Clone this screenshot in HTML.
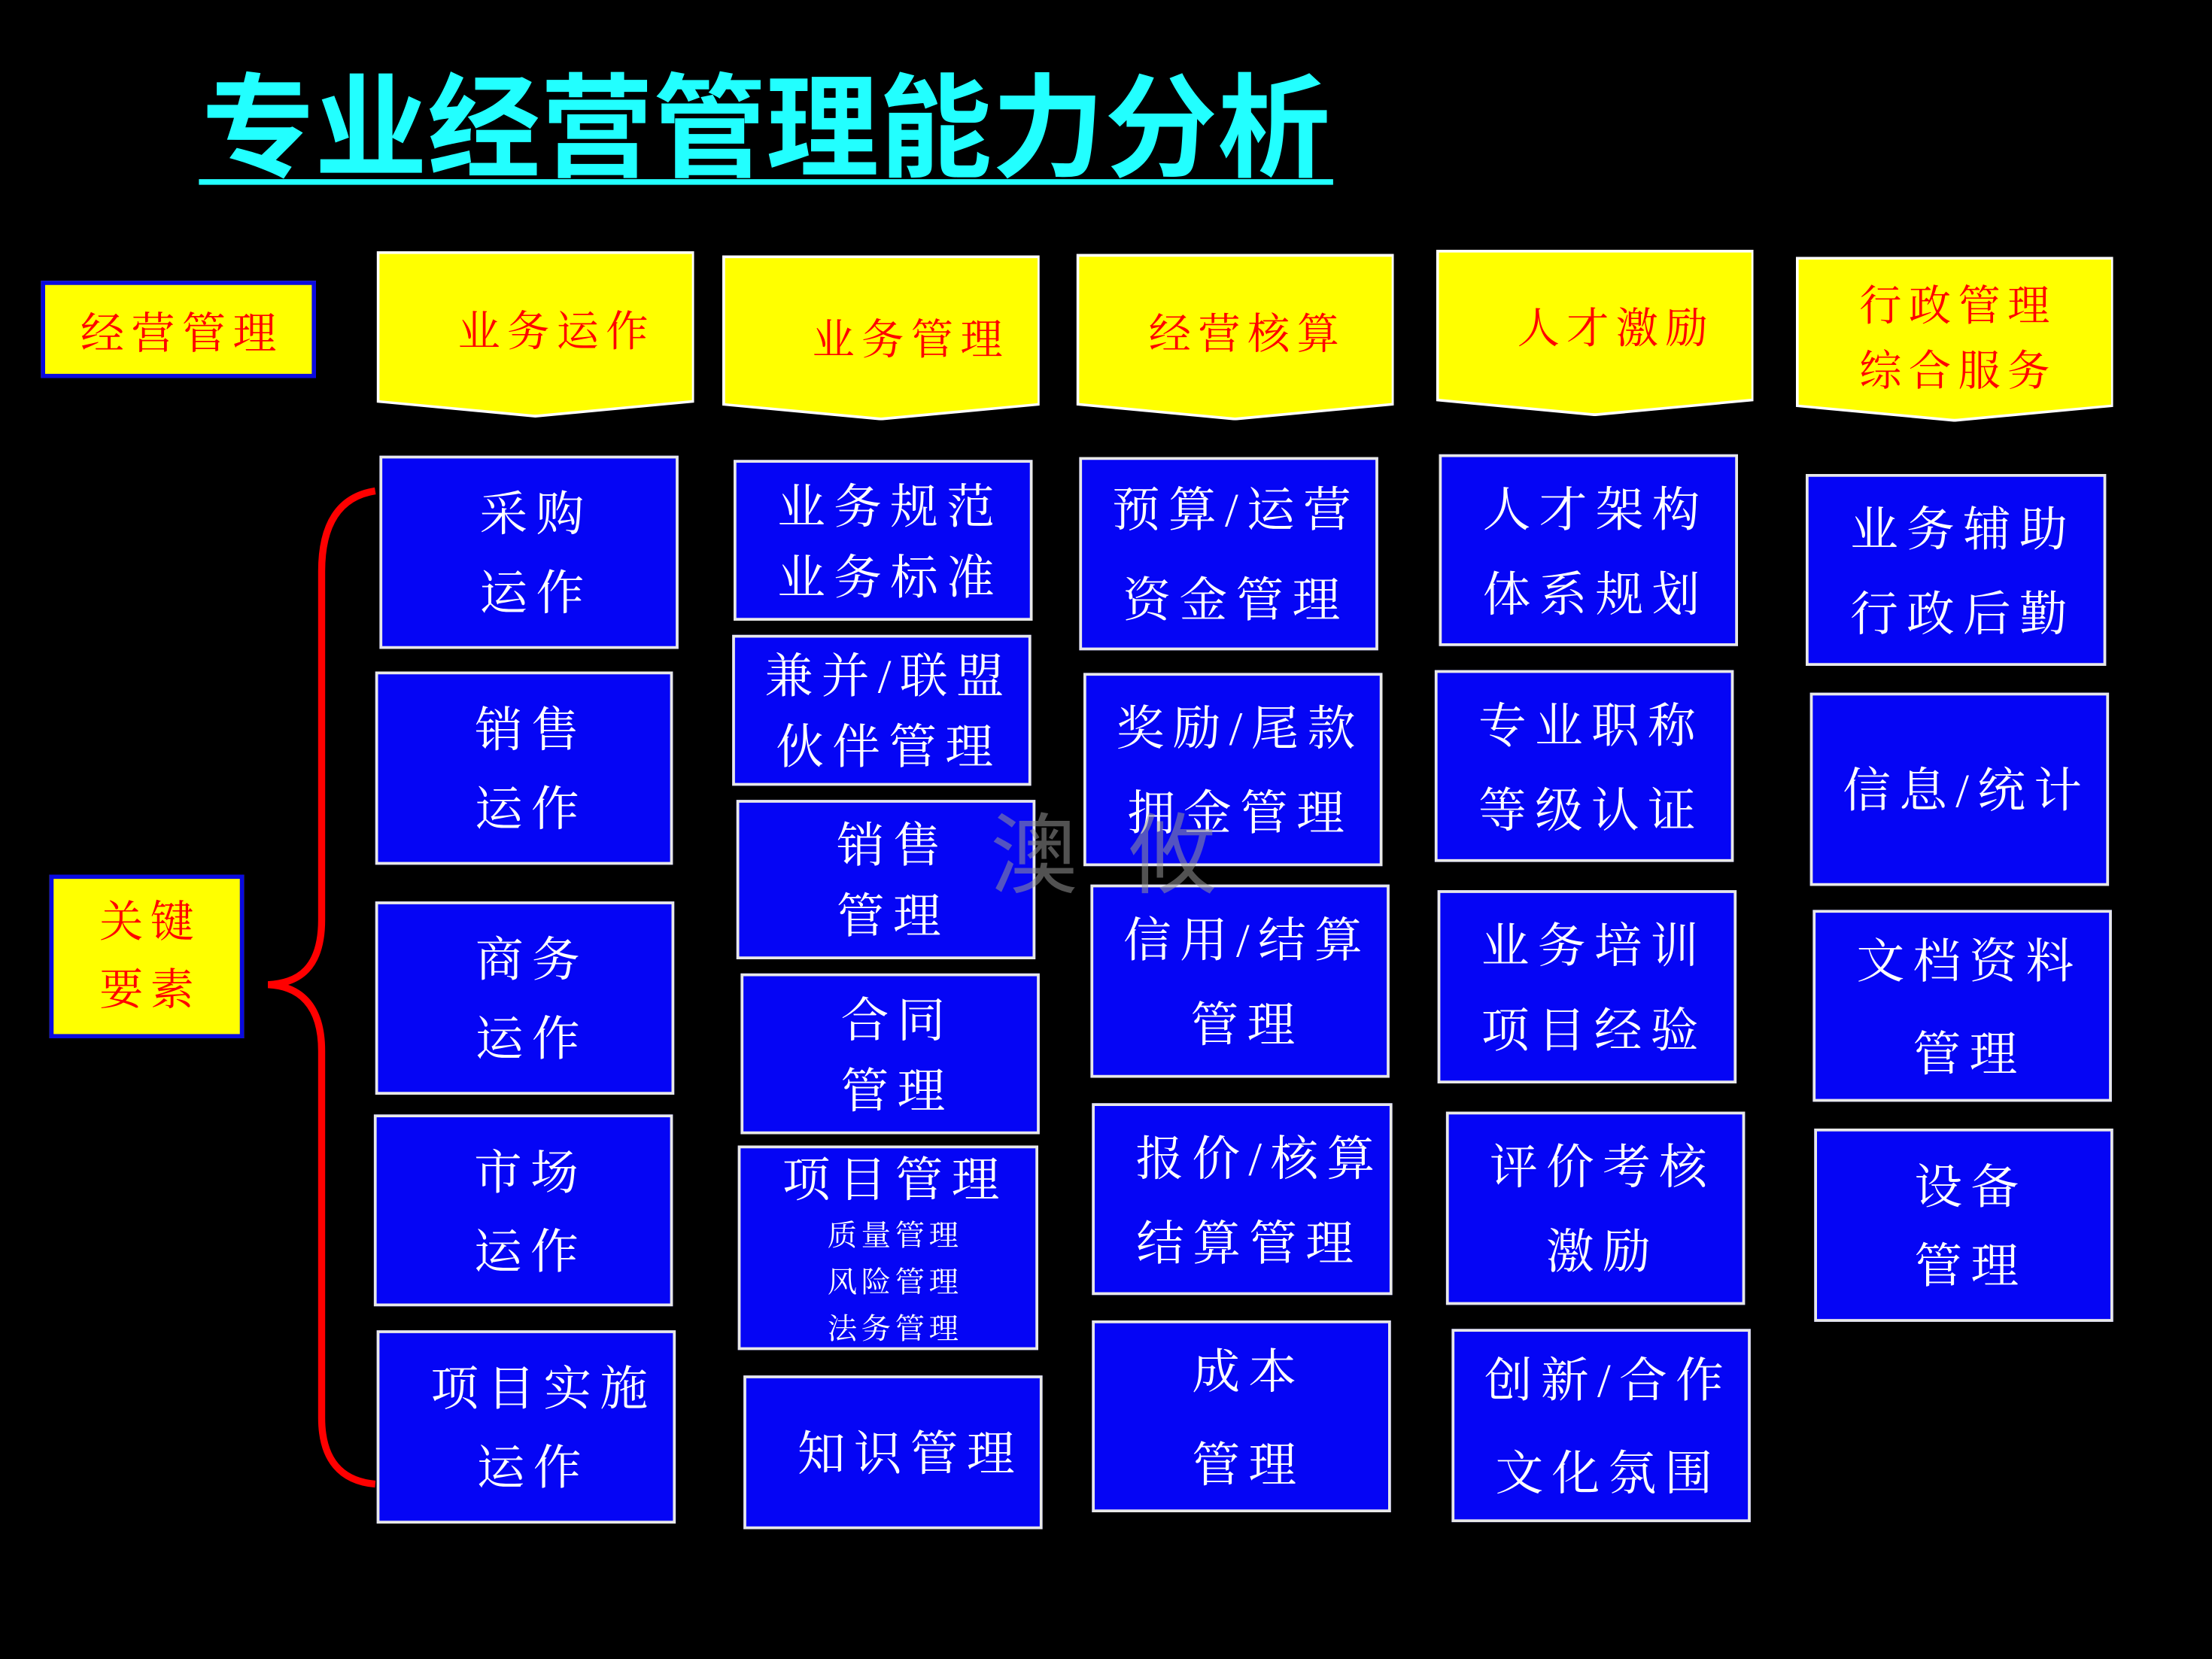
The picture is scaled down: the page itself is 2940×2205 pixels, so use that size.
<!DOCTYPE html>
<html><head><meta charset="utf-8">
<style>
html,body{margin:0;padding:0;background:#000;}
body{width:2940px;height:2205px;overflow:hidden;position:relative;}
#s{position:absolute;left:0;top:0;width:1568px;height:1176px;transform:scale(1.875);transform-origin:0 0;}
.t{position:absolute;left:143px;top:44px;font-family:"Liberation Sans","Noto Sans CJK SC",sans-serif;font-weight:bold;font-size:80px;color:#22ffff;letter-spacing:0px;white-space:nowrap;line-height:96px;}
.ul{position:absolute;left:141px;top:127px;width:804px;height:4px;background:#22ffff;}
.y{position:absolute;background:#ffff00;color:#ff0000;font-family:"Liberation Serif","Noto Serif CJK SC",serif;font-size:31px;letter-spacing:5px;padding-left:5px;display:flex;align-items:center;justify-content:center;text-align:center;box-sizing:border-box;}
.yb{border:3px solid #0a0ae0;}
.h{position:absolute;}
.h .in{position:absolute;inset:0;background:#fff;clip-path:polygon(0 0,100% 0,100% 91%,50% 100%,0 91%);}
.h .in2{position:absolute;left:1.5px;top:1.5px;right:1.5px;bottom:2px;background:#ffff00;clip-path:polygon(0 0,100% 0,100% 91%,50% 100%,0 91%);}
.h .tx{position:absolute;left:0;right:0;top:0;height:100px;display:flex;align-items:center;justify-content:center;color:#ff0000;font-family:"Liberation Serif","Noto Serif CJK SC",serif;font-size:30px;letter-spacing:5px;padding-left:5px;line-height:46px;text-align:center;}
.b{position:absolute;background:#0505f5;border:2px solid #e8e8e8;box-sizing:border-box;color:#fff;font-family:"Liberation Serif","Noto Serif CJK SC",serif;font-size:34px;letter-spacing:6px;padding-left:10px;padding-top:5px;line-height:56px;display:flex;flex-direction:column;align-items:center;justify-content:center;text-align:center;white-space:nowrap;}
.b small{font-size:21px;line-height:33px;letter-spacing:3px;}
.wm{position:absolute;font-family:"Liberation Sans","Noto Sans CJK SC",sans-serif;font-size:62px;color:rgba(150,150,150,0.55);}
</style></head><body><div id="s">
<div class="t">专业经营管理能力分析</div>
<div class="ul"></div>

<div class="y yb" style="left:29px;top:199px;width:195px;height:69px;">经营管理</div>
<div class="y yb" style="left:35px;top:620px;width:138px;height:116px;line-height:48px;">关键<br>要素</div>

<div class="h" style="left:267px;top:178px;width:225px;height:118px;"><div class="in"></div><div class="in2"></div><div class="tx" style="top:8px;">&nbsp;&nbsp;业务运作</div></div>
<div class="h" style="left:512px;top:181px;width:225px;height:117px;"><div class="in"></div><div class="in2"></div><div class="tx" style="top:11px;">&nbsp;&nbsp;&nbsp;业务管理</div></div>
<div class="h" style="left:763px;top:180px;width:225px;height:118px;"><div class="in"></div><div class="in2"></div><div class="tx" style="top:8px;">&nbsp;经营核算</div></div>
<div class="h" style="left:1018px;top:177px;width:225px;height:118px;"><div class="in"></div><div class="in2"></div><div class="tx" style="top:7px;">&nbsp;&nbsp;人才激励</div></div>
<div class="h" style="left:1273px;top:182px;width:225px;height:117px;"><div class="in"></div><div class="in2"></div><div class="tx" style="top:4px;height:110px;">行政管理<br>综合服务</div></div>

<svg style="position:absolute;left:0;top:0" width="1568" height="1176"><path d="M266,348 C240,352 228,372 228,405 L228,652 C228,686 212,697 190,698 C212,699 228,712 228,745 L228,1005 C228,1035 242,1050 266,1052" fill="none" stroke="#ff0000" stroke-width="5"/></svg>

<div class="b" style="left:269px;top:323px;width:212px;height:137px;">采购<br>运作</div>
<div class="b" style="left:266px;top:476px;width:211px;height:137px;">销售<br>运作</div>
<div class="b" style="left:266px;top:639px;width:212px;height:137px;">商务<br>运作</div>
<div class="b" style="left:265px;top:790px;width:212px;height:136px;">市场<br>运作</div>
<div class="b" style="left:267px;top:943px;width:212px;height:137px;">&nbsp;项目实施<br>运作</div>

<div class="b" style="left:520px;top:326px;width:212px;height:114px;line-height:50px;">业务规范<br>业务标准</div>
<div class="b" style="left:519px;top:450px;width:212px;height:107px;line-height:50px;">兼并/联盟<br>伙伴管理</div>
<div class="b" style="left:522px;top:567px;width:212px;height:113px;line-height:50px;">销售<br>管理</div>
<div class="b" style="left:525px;top:690px;width:212px;height:114px;line-height:50px;">合同<br>管理</div>
<div class="b" style="left:523px;top:812px;width:213px;height:145px;"><span style="line-height:44px">项目管理</span><small>质量管理<br>风险管理<br>法务管理</small></div>
<div class="b" style="left:527px;top:975px;width:212px;height:109px;">&nbsp;知识管理</div>

<div class="b" style="left:765px;top:324px;width:212px;height:137px;line-height:64px;">预算/运营<br>资金管理</div>
<div class="b" style="left:768px;top:477px;width:212px;height:137px;line-height:60px;">奖励/尾款<br>拥金管理</div>
<div class="b" style="left:773px;top:627px;width:212px;height:137px;line-height:60px;">信用/结算<br>管理</div>
<div class="b" style="left:774px;top:782px;width:213px;height:136px;line-height:60px;">&nbsp;报价/核算<br>结算管理</div>
<div class="b" style="left:774px;top:936px;width:212px;height:136px;line-height:66px;">成本<br>管理</div>

<div class="b" style="left:1020px;top:322px;width:212px;height:136px;line-height:60px;">人才架构<br>体系规划</div>
<div class="b" style="left:1017px;top:475px;width:212px;height:136px;line-height:60px;">专业职称<br>等级认证</div>
<div class="b" style="left:1019px;top:631px;width:212px;height:137px;line-height:60px;">业务培训<br>项目经验</div>
<div class="b" style="left:1025px;top:788px;width:212px;height:137px;line-height:60px;">评价考核<br>激励</div>
<div class="b" style="left:1029px;top:942px;width:212px;height:137px;line-height:66px;">创新/合作<br>文化氛围</div>

<div class="b" style="left:1280px;top:336px;width:213px;height:136px;line-height:60px;">业务辅助<br>行政后勤</div>
<div class="b" style="left:1283px;top:491px;width:212px;height:137px;">信息/统计</div>
<div class="b" style="left:1285px;top:645px;width:212px;height:136px;line-height:66px;">文档资料<br>管理</div>
<div class="b" style="left:1286px;top:800px;width:212px;height:137px;line-height:56px;">设备<br>管理</div>

<div class="wm" style="left:702px;top:556px;">澳</div>
<div class="wm" style="left:800px;top:556px;">攸</div>
</div></body></html>
